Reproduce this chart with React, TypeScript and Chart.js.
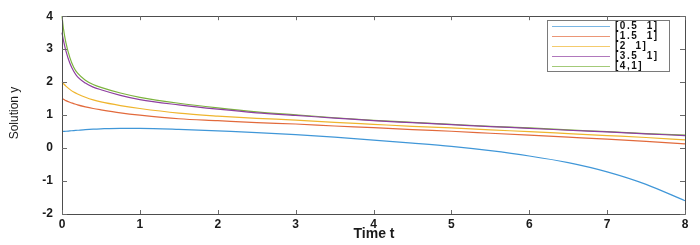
import React, { useEffect, useRef } from "react";
import { Chart, registerables } from "chart.js";

Chart.register(...registerables);

const T = [0, 0.02, 0.05, 0.1, 0.15, 0.2, 0.3, 0.4, 0.5, 0.75, 1, 1.5, 2, 2.5, 3, 3.5, 4, 4.5, 5, 5.5, 6, 6.5, 7, 7.5, 8];
const Y_05 = [0.5, 0.505, 0.51, 0.52, 0.53, 0.54, 0.56, 0.575, 0.585, 0.6, 0.6, 0.57, 0.52, 0.47, 0.41, 0.33, 0.24, 0.15, 0.05, -0.08, -0.24, -0.44, -0.72, -1.1, -1.6];
const Y_15 = [1.5, 1.48, 1.44, 1.39, 1.35, 1.31, 1.25, 1.2, 1.16, 1.07, 1.0, 0.89, 0.83, 0.77, 0.73, 0.67, 0.62, 0.56, 0.51, 0.45, 0.39, 0.33, 0.27, 0.2, 0.13];
const Y_2 = [2, 1.95, 1.88, 1.78, 1.7, 1.64, 1.54, 1.46, 1.4, 1.29, 1.2, 1.06, 0.97, 0.9, 0.85, 0.78, 0.72, 0.66, 0.61, 0.55, 0.5, 0.44, 0.38, 0.32, 0.25];
const Y_35 = [3.5, 3.25, 2.95, 2.58, 2.33, 2.16, 1.97, 1.85, 1.77, 1.6, 1.47, 1.31, 1.18, 1.07, 0.99, 0.91, 0.83, 0.77, 0.71, 0.65, 0.6, 0.54, 0.49, 0.43, 0.38];
const Y_4 = [4, 3.6, 3.2, 2.75, 2.45, 2.27, 2.06, 1.93, 1.84, 1.67, 1.54, 1.36, 1.22, 1.1, 1.01, 0.92, 0.84, 0.78, 0.72, 0.66, 0.61, 0.55, 0.5, 0.44, 0.39];

const LABELS = ["[0.5  1]", "[1.5  1]", "[2  1]", "[3.5  1]", "[4,1]"];
const SERIES = [Y_05, Y_15, Y_2, Y_35, Y_4];
const COLORS = ["#4097d8", "#e26a3c", "#efb52e", "#8e3fa0", "#7cb33e"];

const X_TICKS = [0, 1, 2, 3, 4, 5, 6, 7, 8];
const Y_TICKS = [-2, -1, 0, 1, 2, 3, 4];
const X_TITLE = "Time t";
const Y_TITLE = "Solution y";

const framePlugin = {
  id: "frame",
  afterDatasetsDraw(chart: any) {
    const { ctx, chartArea: a, scales } = chart;
    const xs = scales.x;
    const ys = scales.y;
    ctx.save();
    ctx.strokeStyle = "#4d4d4d";
    ctx.lineWidth = 1;
    ctx.beginPath();
    ctx.rect(Math.round(a.left) + 0.5, Math.round(a.top) + 0.5, Math.round(a.right - a.left), Math.round(a.bottom - a.top));
    ctx.stroke();
    // inward ticks
    ctx.strokeStyle = "#6a6a6a";
    ctx.beginPath();
    const tl = 4;
    X_TICKS.forEach((v) => {
      const px = Math.round(xs.getPixelForValue(v)) + 0.5;
      ctx.moveTo(px, a.bottom);
      ctx.lineTo(px, a.bottom - tl);
      ctx.moveTo(px, a.top);
      ctx.lineTo(px, a.top + tl);
    });
    Y_TICKS.forEach((v) => {
      const py = Math.round(ys.getPixelForValue(v)) + 0.5;
      ctx.moveTo(a.left, py);
      ctx.lineTo(a.left + tl + 1, py);
      ctx.moveTo(a.right, py);
      ctx.lineTo(a.right - tl - 1, py);
    });
    ctx.stroke();

    // axis titles
    ctx.fillStyle = "#1a1a1a";
    ctx.font = "bold 14px 'Liberation Sans', Arial, sans-serif";
    ctx.textAlign = "center";
    ctx.textBaseline = "middle";
    ctx.fillText(X_TITLE, 374, 234);
    ctx.save();
    ctx.translate(15, 113);
    ctx.rotate(-Math.PI / 2);
    ctx.font = "12px 'Liberation Sans', Arial, sans-serif";
    ctx.fillText(Y_TITLE, 0, 0);
    ctx.restore();

    // legend
    const lx = 547, ly = 20, lw = 122, lh = 51;
    ctx.fillStyle = "#ffffff";
    ctx.fillRect(lx, ly, lw, lh);
    ctx.strokeStyle = "#7a7a7a";
    ctx.strokeRect(lx + 0.5, ly + 0.5, lw, lh);
    ctx.font = "bold 10px 'Liberation Sans', Arial, sans-serif";
    ctx.textAlign = "left";
    ctx.textBaseline = "middle";
    try { (ctx as any).letterSpacing = "1.5px"; } catch (e) {}
    chart.data.datasets.forEach((ds: any, i: number) => {
      const yy = ly + 6.5 + i * 10;
      ctx.strokeStyle = ds.borderColor;
      ctx.lineWidth = 1;
      ctx.globalAlpha = 0.7;
      ctx.beginPath();
      ctx.moveTo(552, yy);
      ctx.lineTo(610, yy);
      ctx.stroke();
      ctx.globalAlpha = 1;
      ctx.fillStyle = "#111";
      ctx.fillText(ds.label, 615, yy);
    });
    try { (ctx as any).letterSpacing = "0px"; } catch (e) {}
    ctx.restore();
  },
};

export default function App() {
  const ref = useRef<HTMLCanvasElement | null>(null);
  useEffect(() => {
    if (!ref.current) return;
    const chart = new Chart(ref.current, {
      type: "line",
      data: {
        datasets: SERIES.map((s, i) => ({
          label: LABELS[i],
          data: s.map((y, j) => ({ x: T[j], y })),
          borderColor: COLORS[i],
          backgroundColor: COLORS[i],
          borderWidth: 1.2,
          pointRadius: 0,
          cubicInterpolationMode: "monotone" as const,
          clip: 3,
        })),
      },
      options: {
        animation: false,
        responsive: false,
        events: [],
        layout: { padding: { top: 14, right: 15, left: 0, bottom: 0 } },
        plugins: { legend: { display: false }, tooltip: { enabled: false }, title: { display: false } },
        scales: {
          x: {
            type: "linear",
            min: 0,
            max: 8,
            grid: { display: false, drawTicks: false },
            border: { display: false },
            ticks: {
              stepSize: 1,
              padding: 3,
              maxRotation: 0,
              color: "#1a1a1a",
              font: { family: "'Liberation Sans', Arial, sans-serif", size: 12, weight: "bold" },
            },
            afterFit: (s: any) => { s.height = 31; },
          },
          y: {
            type: "linear",
            min: -2,
            max: 4,
            grid: { display: false, drawTicks: false },
            border: { display: false },
            ticks: {
              stepSize: 1,
              padding: 9,
              color: "#1a1a1a",
              font: { family: "'Liberation Sans', Arial, sans-serif", size: 12, weight: "bold" },
            },
            afterFit: (s: any) => { s.width = 62; },
          },
        },
      },
      plugins: [framePlugin],
    });
    return () => chart.destroy();
  }, []);
  return (
    <div style={{ position: "absolute", left: 0, top: 0, width: 700, height: 245, background: "#fff" }}>
      <canvas ref={ref} width={700} height={245} style={{ display: "block" }} />
    </div>
  );
}
